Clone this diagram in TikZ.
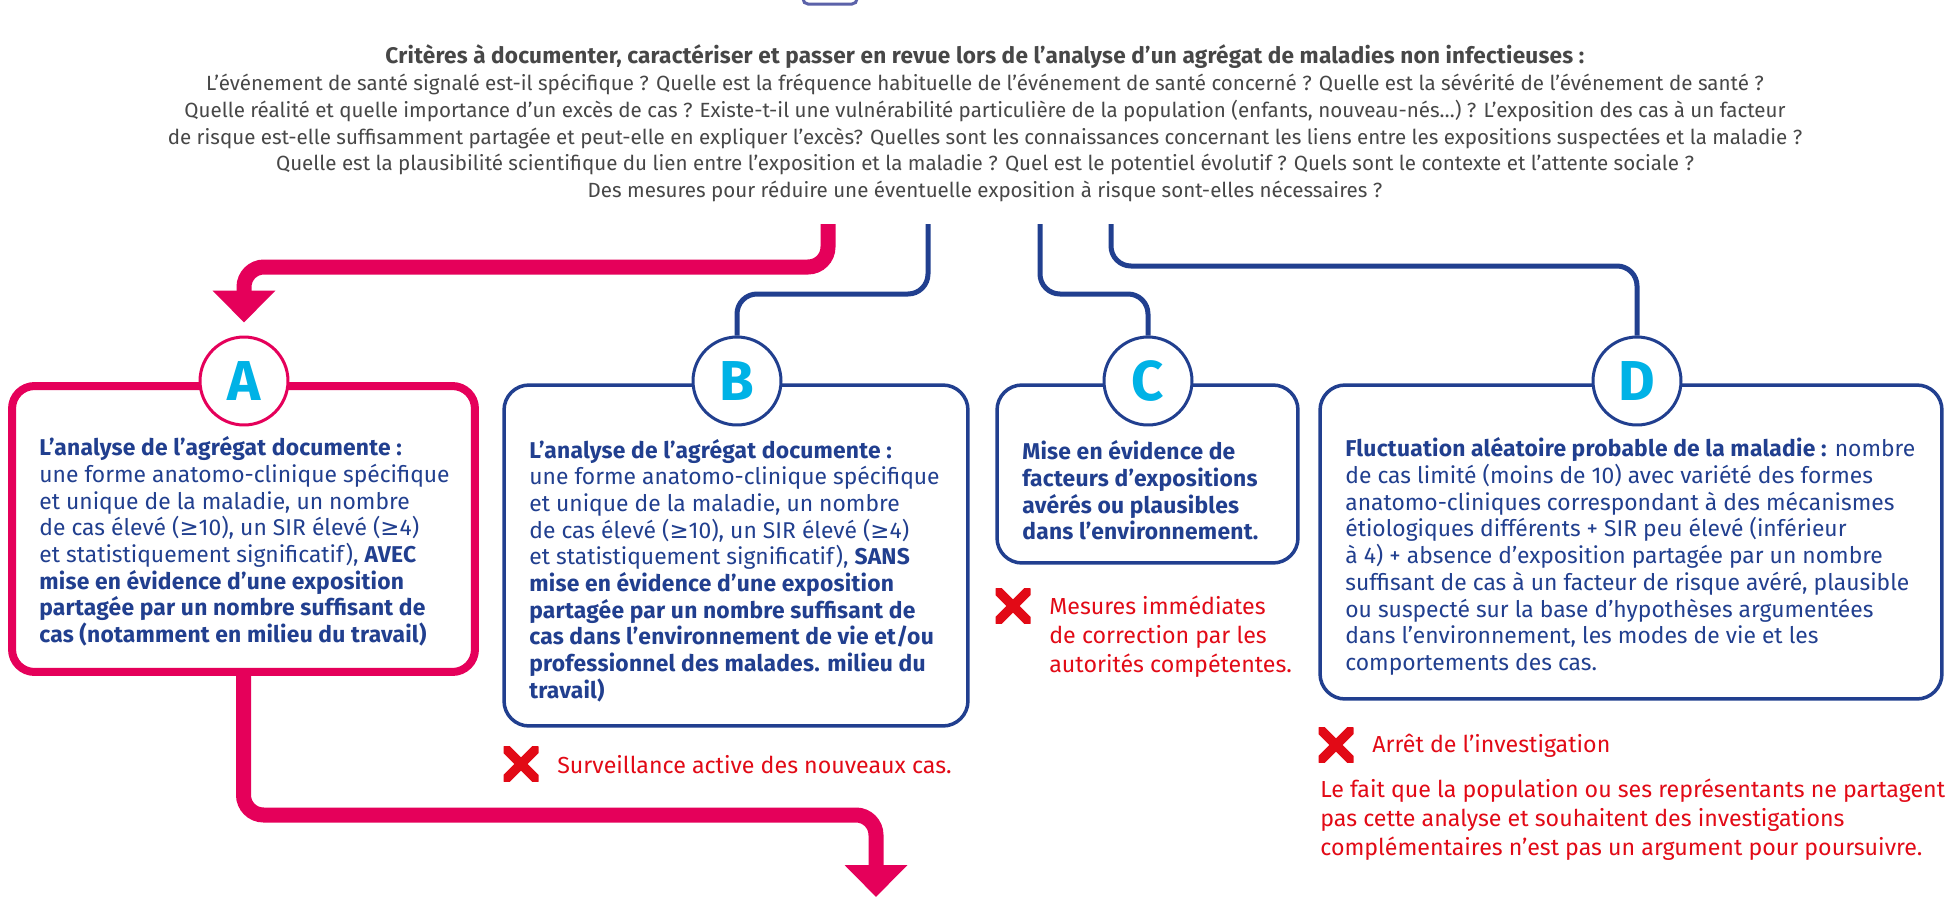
\documentclass[tikz,border=0pt]{standalone}
\usepackage{fontspec}
\setmainfont{Fira Sans}[BoldFeatures={LetterSpace=1.0}]
\newfontfamily\symfnt{DejaVu Sans}
\usetikzlibrary{arrows.meta}
\definecolor{pinkc}{HTML}{E5005A}
\definecolor{navy}{HTML}{213F8F}
\definecolor{cyanc}{HTML}{00B2E6}
\definecolor{redc}{HTML}{E20A16}
\definecolor{greytxt}{HTML}{474747}
\definecolor{fragc}{HTML}{5B62A9}
\newcommand{\sge}{{\symfnt ≥}}

\begin{document}
\begin{tikzpicture}[
        x=0.02cm, y=-0.02cm,
        toptext/.style={align=center, inner sep=0pt, text=greytxt, font=\fontsize{11.7}{15.2}\selectfont},
        boxtext/.style={anchor=west, align=left, inner sep=0pt, text=navy, font=\fontsize{13}{15.2}\selectfont},
        redtext/.style={anchor=west, align=left, inner sep=0pt, text=redc, font=\fontsize{13.2}{16.5}\selectfont},
        pinkbox/.style={draw=pinkc, line width=0.16cm, rounded corners=0.45cm, inner sep=0pt},
        navybox/.style={draw=navy, line width=0.07cm, rounded corners=0.5cm, inner sep=0pt},
        circ/.style={circle, fill=white, minimum size=1.76cm, inner sep=0pt, line width=0.06cm, text=cyanc, font=\fontsize{32}{32}\selectfont\bfseries},
        xmark/.style={minimum size=0.7cm, inner sep=0pt, path picture={
            \draw[redc, line width=0.19cm] (path picture bounding box.north west) -- (path picture bounding box.south east)
                (path picture bounding box.south west) -- (path picture bounding box.north east);}},
        pinkarrow/.style={draw=pinkc, line width=0.3cm, rounded corners=0.4cm, -{Triangle[length=0.64cm, width=1.22cm]}},
        navline/.style={draw=navy, line width=0.1cm, rounded corners=0.4cm}
    ]

    \path[use as bounding box, fill=white] (0,0) rectangle (1948,903);
    \draw[fragc, line width=0.06cm, rounded corners=0.1cm] (803,-20) -- (803,4) -- (857,4) -- (857,-20);

    \node[toptext] (criteres) at (985,123.5) {{\fontsize{12.85}{15.2}\selectfont\textbf{Critères à documenter, caractériser et passer en revue lors de l’analyse d’un agrégat de maladies non infectieuses :}}\\
        L’événement de santé signalé est-il spécifique ? Quelle est la fréquence habituelle de l’événement de santé concerné ? Quelle est la sévérité de l’événement de santé ?\\
        Quelle réalité et quelle importance d’un excès de cas ? Existe-t-il une vulnérabilité particulière de la population (enfants, nouveau-nés…) ? L’exposition des cas à un facteur\\
        de risque est-elle suffisamment partagée et peut-elle en expliquer l’excès? Quelles sont les connaissances concernant les liens entre les expositions suspectées et la maladie ?\\
        Quelle est la plausibilité scientifique du lien entre l’exposition et la maladie ? Quel est le potentiel évolutif ? Quels sont le contexte et l’attente sociale ?\\
        Des mesures pour réduire une éventuelle exposition à risque sont-elles nécessaires ?};

    \node[pinkbox, minimum width=9.26cm, minimum height=5.72cm] (boxA) at (243.5,529) {};
    \node[navybox, minimum width=9.28cm, minimum height=6.82cm] (boxB) at (736,555.5) {};
    \node[navybox, minimum width=6.02cm, minimum height=3.56cm] (boxC) at (1147.5,474) {};
    \node[navybox, minimum width=12.44cm, minimum height=6.28cm] (boxD) at (1631,542) {};

    \node[circ, draw=pinkc] (circA) at (244,381) {A};
    \node[circ, draw=navy] (circB) at (737,381) {B};
    \node[circ, draw=navy] (circC) at (1148,381) {C};
    \node[circ, draw=navy] (circD) at (1637,381) {D};

    \node[boxtext] (txtA) at (39,541.5) {\textbf{L’analyse de l’agrégat documente :}\\
        une forme anatomo-clinique spécifique\\
        et unique de la maladie, un nombre\\
        de cas élevé (\sge10), un SIR élevé (\sge4)\\
        et statistiquement significatif), \textbf{AVEC}\\
        \textbf{mise en évidence d’une exposition}\\
        \textbf{partagée par un nombre suffisant de}\\
        \textbf{cas (notamment en milieu du travail)}};
    \node[boxtext] (txtB) at (529,570.5) {\textbf{L’analyse de l’agrégat documente :}\\
        une forme anatomo-clinique spécifique\\
        et unique de la maladie, un nombre\\
        de cas élevé (\sge10), un SIR élevé (\sge4)\\
        et statistiquement significatif), \textbf{SANS}\\
        \textbf{mise en évidence d’une exposition}\\
        \textbf{partagée par un nombre suffisant de}\\
        \textbf{cas dans l’environnement de vie et/ou}\\
        \textbf{professionnel des malades. milieu du}\\
        \textbf{travail)}};
    \node[boxtext, font=\fontsize{13}{15.2}\selectfont\bfseries] (txtC) at (1022,490.5) {Mise en évidence de\\
        facteurs d’expositions\\
        avérés ou plausibles\\
        dans l’environnement.};
    \node[boxtext] (txtD) at (1345,556.5) {\textbf{Fluctuation aléatoire probable de la maladie :} nombre\\
        de cas limité (moins de 10) avec variété des formes\\
        anatomo-cliniques correspondant à des mécanismes\\
        étiologiques différents + SIR peu élevé (inférieur\\
        à 4) + absence d’exposition partagée par un nombre\\
        suffisant de cas à un facteur de risque avéré, plausible\\
        ou suspecté sur la base d’hypothèses argumentées\\
        dans l’environnement, les modes de vie et les\\
        comportements des cas.};

    \node[xmark] (xB) at (521,764) {};
    \node[redtext] (actB) at (557,765) {Surveillance active des nouveaux cas.};
    \node[xmark] (xC) at (1013,606) {};
    \node[redtext] (actC) at (1049,637) {Mesures immédiates\\de correction par les\\autorités compétentes.};
    \node[xmark] (xD) at (1336,745) {};
    \node[redtext] (actD) at (1372,746) {Arrêt de l’investigation};
    \node[redtext] (noteD) at (1320,820) {Le fait que la population ou ses représentants ne partagent\\
        pas cette analyse et souhaitent des investigations\\
        complémentaires n’est pas un argument pour poursuivre.};

    \coordinate (srcA) at (828,224);
    \coordinate (srcB) at (928,224);
    \coordinate (srcC) at (1040,224);
    \coordinate (srcD) at (1111,224);
    \coordinate (endA) at (876,897);

    \draw[pinkarrow, shorten >=0.26cm] (srcA) -- (srcA |- 0,267) -| (circA.north);
    \draw[navline] (srcB) -- (srcB |- 0,294) -| (circB.north);
    \draw[navline] (srcC) -- (srcC |- 0,294) -| (circC.north);
    \draw[navline] (srcD) -- (srcD |- 0,266) -| (circD.north);
    \draw[pinkarrow] (boxA.south) -- (boxA.south |- 0,815) -| (endA);

\end{tikzpicture}
\end{document}
